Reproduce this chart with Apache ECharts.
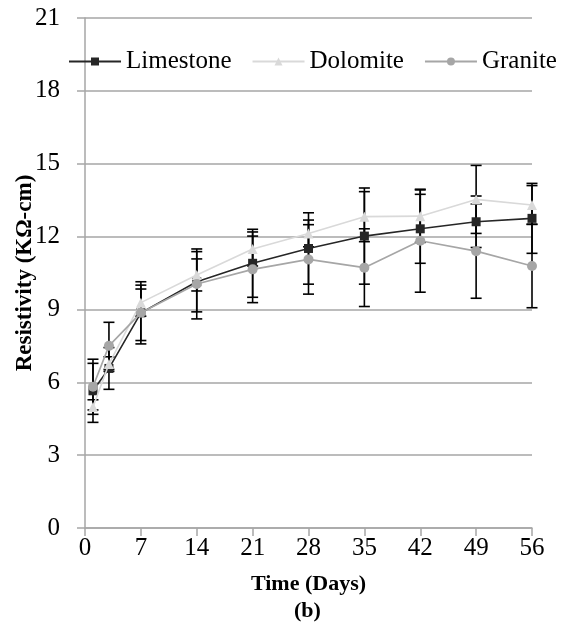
<!DOCTYPE html>
<html>
<head>
<meta charset="utf-8">
<script src="https://cdn.jsdelivr.net/npm/echarts@6/dist/echarts.min.js"></script>
<style>
  html, body { margin: 0; padding: 0; background: #fff; }
  #chart { width: 569px; height: 634px; }
</style>
</head>
<body>
<div id="chart"></div>
<script>
// Curing age (days) at which resistivity was measured
const days = [1, 3, 7, 14, 21, 28, 35, 42, 49, 56];

// Mean resistivity (kΩ-cm) and standard deviation for each aggregate type
const limestone    = [5.65, 6.57, 8.86, 10.14, 10.90, 11.51, 12.02, 12.32, 12.61, 12.75];
const limestoneErr = [1.30, 0.86, 1.28, 1.24, 1.40, 1.47, 1.98, 1.42, 1.06, 1.44];
const dolomite     = [4.98, 6.75, 9.28, 10.42, 11.49, 12.13, 12.82, 12.84, 13.53, 13.30];
const dolomiteErr  = [0.30, 0.30, 0.56, 0.66, 0.70, 0.55, 1.03, 1.08, 1.40, 0.80];
const granite      = [5.82, 7.50, 8.86, 10.05, 10.65, 11.06, 10.72, 11.83, 11.40, 10.79];
const graniteErr   = [0.96, 0.97, 1.14, 1.44, 1.37, 1.43, 1.60, 2.12, 1.94, 1.72];

const xTicks = { min: 0, max: 56, step: 7 };
const yTicks = { min: 0, max: 21, step: 3 };

const SERIF = "'Liberation Serif', 'Times New Roman', serif";
const GRID_GRAY = '#a6a6a6';
const LABEL_SIZE = 25;

function points(values) {
  return days.map((d, i) => [d, values[i]]);
}

function errorData(values, errs) {
  return days.map((d, i) => [d, values[i] - errs[i], values[i] + errs[i]]);
}

// Vertical whisker with horizontal caps at both ends
function renderErrorBar(params, api) {
  const x = api.value(0);
  const lo = api.coord([x, api.value(1)]);
  const hi = api.coord([x, api.value(2)]);
  const hw = 5.5;
  const style = { stroke: '#000', lineWidth: 1.6 };
  return {
    type: 'group',
    children: [
      { type: 'line', shape: { x1: lo[0], y1: lo[1], x2: hi[0], y2: hi[1] }, style },
      { type: 'line', shape: { x1: lo[0] - hw, y1: lo[1], x2: lo[0] + hw, y2: lo[1] }, style },
      { type: 'line', shape: { x1: hi[0] - hw, y1: hi[1], x2: hi[0] + hw, y2: hi[1] }, style }
    ]
  };
}

function errorSeries(name, values, errs, z) {
  return {
    type: 'custom',
    name: name + ' error',
    data: errorData(values, errs),
    encode: { x: 0, y: [1, 2] },
    renderItem: renderErrorBar,
    z: z,
    silent: true
  };
}

function lineSeries(name, values, color, symbol, size, z) {
  return {
    type: 'line',
    name: name,
    data: points(values),
    symbol: symbol,
    symbolSize: size,
    showSymbol: true,
    lineStyle: { color: color, width: 1.6 },
    itemStyle: { color: color, borderWidth: 0 },
    z: z,
    animation: false
  };
}

const chart = echarts.init(document.getElementById('chart'), null, { renderer: 'canvas' });

chart.setOption({
  animation: false,
  backgroundColor: '#fff',
  textStyle: { fontFamily: SERIF, color: '#000' },
  grid: {
    left: 85, right: 37, top: 18, bottom: 106,
    containLabel: false,
    outerBoundsMode: 'none'
  },
  legend: {
    data: ['Limestone', 'Dolomite', 'Granite'],
    left: 68,
    top: 49,
    padding: 0,
    itemWidth: 52,
    itemHeight: 10,
    itemGap: 20,
    textStyle: { fontFamily: SERIF, fontSize: LABEL_SIZE, color: '#000' }
  },
  xAxis: {
    type: 'value',
    min: xTicks.min,
    max: xTicks.max,
    interval: xTicks.step,
    name: 'Time (Days)',
    nameLocation: 'middle',
    nameGap: 45,
    nameTextStyle: { fontFamily: SERIF, fontSize: 22, fontWeight: 'bold', color: '#000' },
    axisLine: { show: true, lineStyle: { color: GRID_GRAY, width: 1.5 } },
    axisTick: { show: true, length: 8, lineStyle: { color: GRID_GRAY, width: 1.5 } },
    axisLabel: { fontFamily: SERIF, fontSize: LABEL_SIZE, color: '#000', margin: 8 },
    splitLine: { show: false }
  },
  yAxis: {
    type: 'value',
    min: yTicks.min,
    max: yTicks.max,
    interval: yTicks.step,
    name: 'Resistivity (KΩ-cm)',
    nameLocation: 'middle',
    nameGap: 48,
    nameMoveOverlap: false,
    nameTextStyle: { fontFamily: SERIF, fontSize: 23, fontWeight: 'bold', color: '#000' },
    axisLine: { show: true, lineStyle: { color: GRID_GRAY, width: 1.5 } },
    axisTick: { show: true, length: 8, lineStyle: { color: GRID_GRAY, width: 1.5 } },
    axisLabel: { fontFamily: SERIF, fontSize: LABEL_SIZE, color: '#000', margin: 25 },
    splitLine: { show: true, lineStyle: { color: GRID_GRAY, width: 1.5 } }
  },
  graphic: [{
    type: 'text',
    left: 294,
    top: 600,
    style: { text: '(b)', font: "bold 22px 'Liberation Serif', serif", fill: '#000' }
  }],
  series: [
    errorSeries('Limestone', limestone, limestoneErr, 2),
    errorSeries('Dolomite', dolomite, dolomiteErr, 2),
    errorSeries('Granite', granite, graniteErr, 2),
    lineSeries('Limestone', limestone, '#262626', 'rect', 9, 3),
    lineSeries('Dolomite', dolomite, '#d9d9d9', 'triangle', 10, 4),
    lineSeries('Granite', granite, '#a6a6a6', 'circle', 10, 5)
  ]
});
</script>
</body>
</html>
